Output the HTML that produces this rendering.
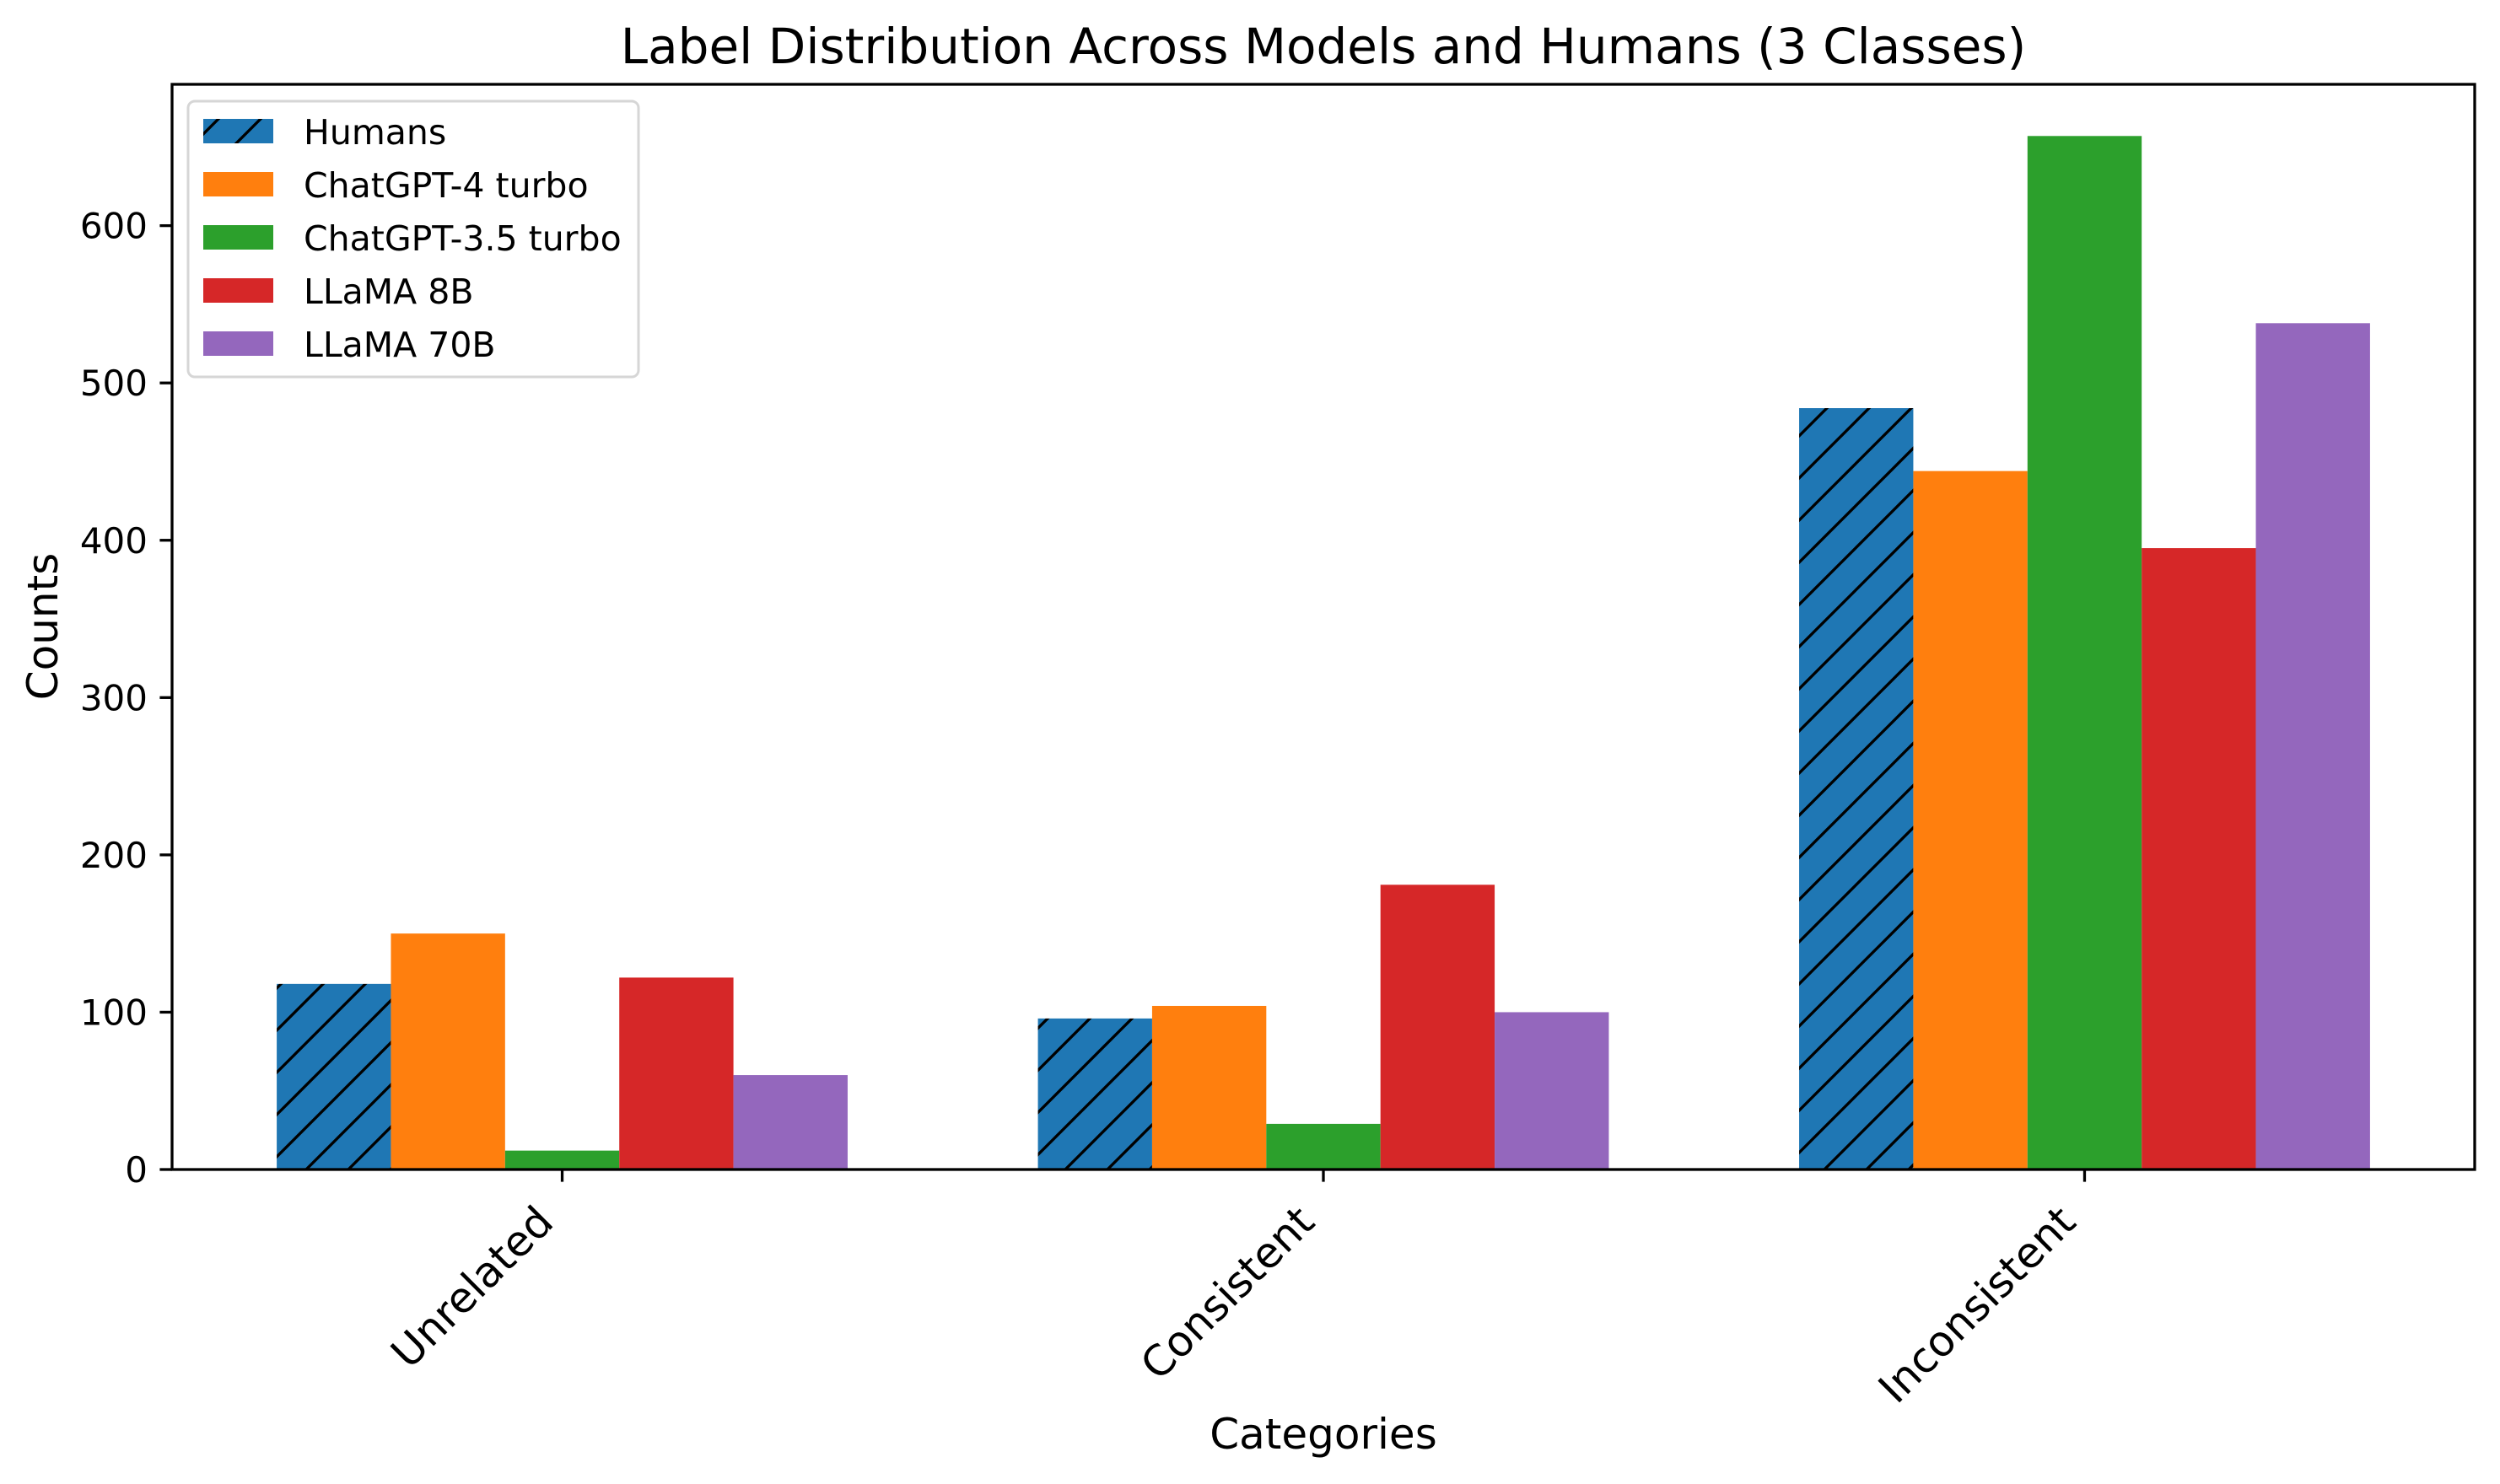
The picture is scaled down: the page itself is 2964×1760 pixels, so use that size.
<!DOCTYPE html>
<html><head><meta charset="utf-8"><style>
html,body{margin:0;padding:0;background:#fff;}
svg{display:block;font-family:"DejaVu Sans","Liberation Sans",sans-serif;}
</style></head><body>
<svg id="chart" width="2964" height="1760" viewBox="0 0 2964 1760" xmlns="http://www.w3.org/2000/svg">
<defs>
<pattern id="hatch" patternUnits="userSpaceOnUse" width="50" height="50">
<rect width="50" height="50" fill="#1f77b4"/>
<line x1="-5" y1="55" x2="55" y2="-5" stroke="#000" stroke-width="3.3"/>
<line x1="-30" y1="30" x2="30" y2="-30" stroke="#000" stroke-width="3.3"/>
<line x1="20" y1="80" x2="80" y2="20" stroke="#000" stroke-width="3.3"/>
</pattern>
</defs>
<rect width="2964" height="1760" fill="#fff"/>
<text x="1569" y="75" font-size="58" text-anchor="middle">Label Distribution Across Models and Humans (3 Classes)</text>
<g id="bars"></g>
<g id="axes"></g>
<text transform="translate(68,743) rotate(-90)" font-size="50" text-anchor="middle">Counts</text>
<text x="1569" y="1718" font-size="50" text-anchor="middle">Categories</text>
<g id="legend"></g>
</svg>
<script>
const categories = ["Unrelated", "Consistent", "Inconsistent"];
const seriesNames = ["Humans", "ChatGPT-4 turbo", "ChatGPT-3.5 turbo", "LLaMA 8B", "LLaMA 70B"];
const humans = [118, 96, 484];
const gpt4 = [150, 104, 444];
const gpt35 = [12, 29, 657];
const llama8 = [122, 181, 395];
const llama70 = [60, 100, 538];
const yTicks = [0, 100, 200, 300, 400, 500, 600];

const series = [humans, gpt4, gpt35, llama8, llama70];
const fills = ["url(#hatch)", "#ff7f0e", "#2ca02c", "#d62728", "#9467bd"];
const NS = "http://www.w3.org/2000/svg";
const L = 204, R = 2934, T = 100, B = 1387;
const barW = 0.15;
const xmin = -2.5*barW - 0.05*(categories.length - 1 + 5*barW);
const xmax = categories.length - 1 + 2.5*barW + 0.05*(categories.length - 1 + 5*barW);
let maxV = 0; series.forEach(s => s.forEach(v => { if (v > maxV) maxV = v; }));
const ymax = maxV * 1.05;
function xs(v){ return L + (v - xmin) / (xmax - xmin) * (R - L); }
function ys(v){ return B - v / ymax * (B - T); }
function mk(tag, attrs, parent){ const e = document.createElementNS(NS, tag); for (const k in attrs) e.setAttribute(k, attrs[k]); parent.appendChild(e); return e; }

const gb = document.getElementById("bars");
series.forEach((s, si) => {
  s.forEach((v, ci) => {
    const c = ci + (si - 2) * barW;
    const x0 = xs(c - barW/2), x1 = xs(c + barW/2);
    const r = mk("rect", {x: x0, y: ys(v), width: x1 - x0, height: ys(0) - ys(v), fill: fills[si]}, gb);
    
    
  });
});

const ga = document.getElementById("axes");
const frame = mk("rect", {x: L, y: T, width: R - L, height: B - T, fill: "none", stroke: "#000", "stroke-width": 3.3}, ga);


yTicks.forEach(t => {
  const y = ys(t);
  const tk = mk("line", {x1: L - 14.6, x2: L, y1: y, y2: y, stroke: "#000", "stroke-width": 3.3}, ga);
  
  
  const tl = mk("text", {x: L - 29, y: y + 15, "font-size": 42, "text-anchor": "end"}, ga);
  tl.textContent = t;
  
  
});
categories.forEach((c, i) => {
  const x = xs(i);
  const tk = mk("line", {x1: x, x2: x, y1: B, y2: B + 14.6, stroke: "#000", "stroke-width": 3.3}, ga);
  
  
  const px = x - 8, py = 1452;
  const tl = mk("text", {x: px, y: py, "font-size": 50, "text-anchor": "end", transform: "rotate(-45 " + px + " " + py + ")"}, ga);
  tl.textContent = c;
  
  
});

const gl = document.getElementById("legend");
const box = mk("rect", {x: 223, y: 120, width: 534, height: 327, rx: 8, fill: "#fff", "fill-opacity": 0.8, stroke: "#d6d6d6", "stroke-width": 3}, gl);


seriesNames.forEach((n, i) => {
  const y = 141 + i * 63;
  const p = mk("rect", {x: 241, y: y, width: 83, height: 29, fill: fills[i]}, gl);
  
  
  const t = mk("text", {x: 360, y: y + 30, "font-size": 41}, gl);
  t.textContent = n;
  
  
});
</script>
</body></html>
